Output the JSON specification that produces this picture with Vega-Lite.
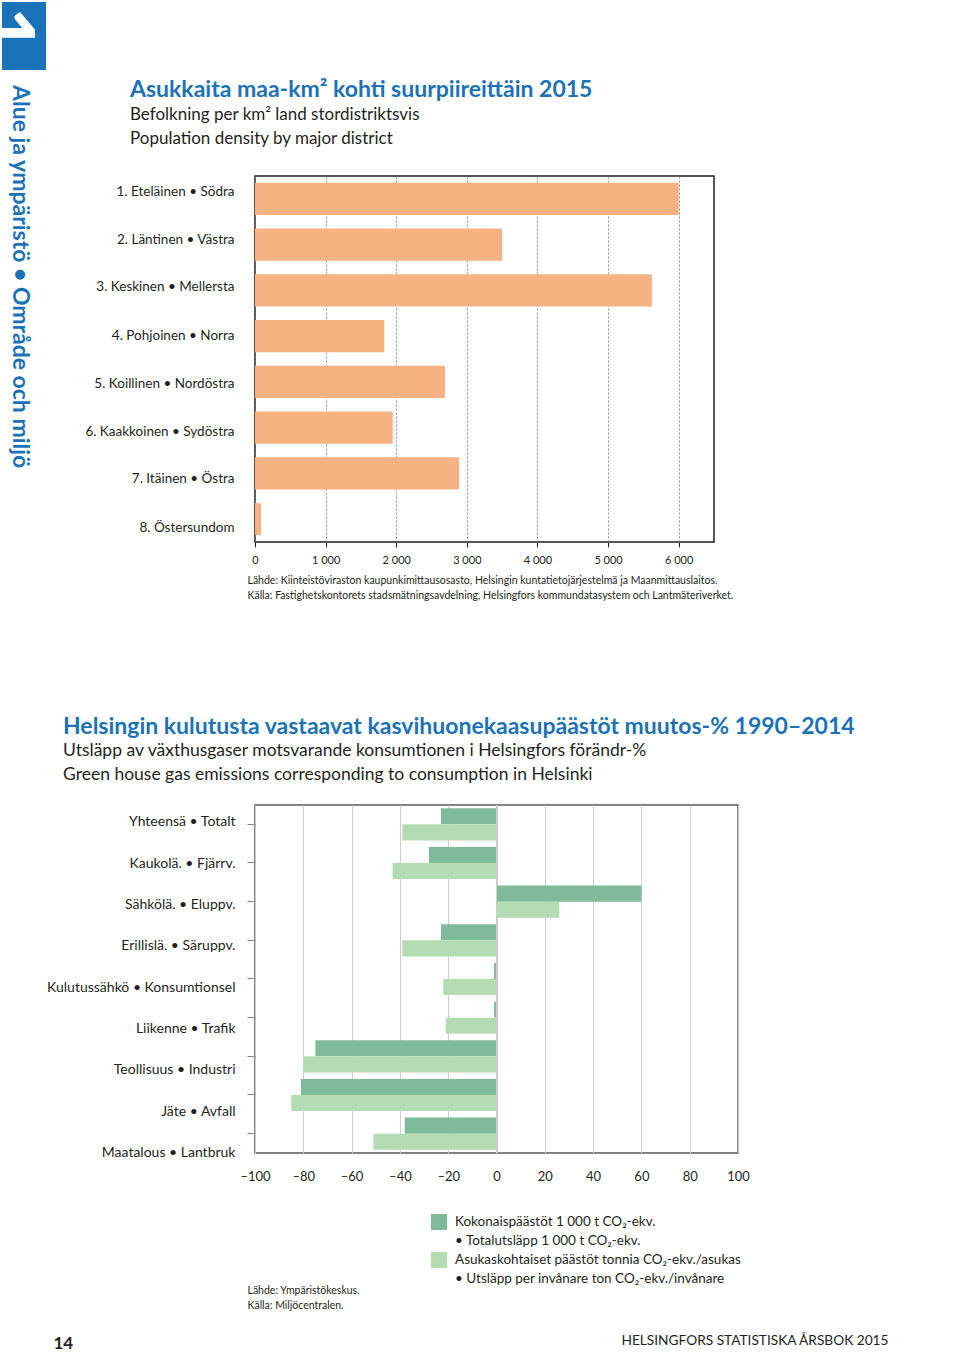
{
  "$schema": "https://vega.github.io/schema/vega-lite/v6.json",
  "background": "white",
  "padding": {"left": 2, "top": 2, "right": 5, "bottom": 5},
  "bounds": "flush",
  "spacing": 209,
  "config": {
    "font": "Lato",
    "view": {"stroke": null},
    "axis": {"labelFont": "Lato", "titleFont": "Lato"},
    "legend": {"labelFont": "Lato", "titleFont": "Lato"},
    "title": {"font": "Lato", "subtitleFont": "Lato"}
  },
  "hconcat": [
    {
      "width": 44,
      "height": 68,
      "view": {"fill": "#1b72b9", "stroke": null},
      "data": {"values": [{"chapter": "1"}]},
      "mark": {"type": "text", "angle": 90, "align": "center", "baseline": "alphabetic", "fontSize": 80, "fontWeight": "bold", "color": "white", "clip": true, "dx": -6, "dy": 47},
      "encoding": {"text": {"field": "chapter", "type": "nominal"}},
      "title": {"text": "Alue ja ympäristö • Område och miljö", "orient": "bottom", "anchor": "start", "frame": "group", "angle": 90, "align": "left", "baseline": "middle", "fontSize": 23, "fontWeight": "bold", "color": "#1b72b9", "offset": 15, "dx": 0, "dy": -18}
    },
    {
      "bounds": "flush",
      "spacing": 164,
      "vconcat": [
        {
          "width": 10,
          "height": 10,
          "data": {"values": []},
          "mark": "point"
        },
        {
          "bounds": "flush",
          "spacing": 263,
          "vconcat": [
            {
              "width": 459,
              "height": 366,
              "view": {"stroke": "#231f20", "strokeWidth": 1.5},
              "title": {
                "text": "Asukkaita maa-km² kohti suurpiireittäin 2015",
                "subtitle": ["Befolkning per km² land stordistriktsvis", "Population density by major district"],
                "anchor": "start", "frame": "group", "dx": -125, "offset": 29,
                "fontSize": 23, "fontWeight": "bold", "color": "#1b72b9",
                "subtitleFontSize": 17, "subtitleColor": "#231f20", "subtitleLineHeight": 24, "subtitlePadding": 5
              },
              "data": {"values": [
                {"d": "1. Eteläinen • Södra", "v": 6000},
                {"d": "2. Läntinen • Västra", "v": 3500},
                {"d": "3. Keskinen • Mellersta", "v": 5620},
                {"d": "4. Pohjoinen • Norra", "v": 1830},
                {"d": "5. Koillinen • Nordöstra", "v": 2690},
                {"d": "6. Kaakkoinen • Sydöstra", "v": 1950},
                {"d": "7. Itäinen • Östra", "v": 2890},
                {"d": "8. Östersundom", "v": 85}
              ]},
              "mark": {"type": "bar", "color": "#f7b283"},
              "encoding": {
                "y": {
                  "field": "d", "type": "nominal", "sort": null,
                  "scale": {"paddingInner": 0.3, "paddingOuter": 0.15},
                  "axis": {
                    "title": null, "ticks": false, "domain": false, "labelPadding": 21, "labelFontSize": 13.5,
                    "labelColor": "#231f20", "labelLimit": 300,
                    "labelOffset": {"condition": [
                      {"test": "datum.value === '1. Eteläinen • Södra'", "value": -7},
                      {"test": "datum.value === '2. Läntinen • Västra'", "value": -5},
                      {"test": "datum.value === '3. Keskinen • Mellersta'", "value": -3},
                      {"test": "datum.value === '5. Koillinen • Nordöstra'", "value": 2},
                      {"test": "datum.value === '6. Kaakkoinen • Sydöstra'", "value": 4},
                      {"test": "datum.value === '7. Itäinen • Östra'", "value": 6},
                      {"test": "datum.value === '8. Östersundom'", "value": 9}
                    ], "value": 0}
                  }
                },
                "x": {
                  "field": "v", "type": "quantitative",
                  "scale": {"domain": [0, 6500], "nice": false},
                  "axis": {
                    "values": [0, 1000, 2000, 3000, 4000, 5000, 6000],
                    "labelExpr": "replace(format(datum.value, ','), ',', ' ')",
                    "labelFlush": false,
                    "grid": true, "gridDash": [2, 2], "gridColor": "#777777", "gridWidth": 0.8,
                    "domain": false, "tickSize": 5, "tickColor": "#231f20",
                    "labelFontSize": 11, "labelPadding": 7, "labelColor": "#231f20",
                    "title": ["Lähde: Kiinteistöviraston kaupunkimittausosasto, Helsingin kuntatietojärjestelmä ja Maanmittauslaitos.", "Källa: Fastighetskontorets stadsmätningsavdelning, Helsingfors kommundatasystem och Lantmäteriverket."],
                    "titleX": -8, "titleY": 33, "titleAlign": "left", "titleAnchor": "start", "titleBaseline": "top",
                    "titleFontSize": 10.5, "titleFontWeight": "normal", "titleColor": "#231f20", "titleLineHeight": 15
                  }
                }
              }
            },
            {
              "width": 483,
              "height": 348,
              "view": {"stroke": "#58595b", "strokeWidth": 1.5},
              "title": {
                "text": "Helsingin kulutusta vastaavat kasvihuonekaasupäästöt muutos-% 1990–2014",
                "subtitle": ["Utsläpp av växthusgaser motsvarande konsumtionen i Helsingfors  förändr-%", "Green house gas emissions corresponding to consumption in Helsinki"],
                "anchor": "start", "frame": "group", "dx": -192, "offset": 21,
                "fontSize": 23, "fontWeight": "bold", "color": "#1b72b9",
                "subtitleFontSize": 17.5, "subtitleColor": "#231f20", "subtitleLineHeight": 24, "subtitlePadding": 3
              },
              "layer": [
                {
                  "data": {"values": [
                    {"c": "Yhteensä • Totalt", "s": "A", "v": -23},
                    {"c": "Yhteensä • Totalt", "s": "B", "v": -39},
                    {"c": "Kaukolä. • Fjärrv.", "s": "A", "v": -28},
                    {"c": "Kaukolä. • Fjärrv.", "s": "B", "v": -43},
                    {"c": "Sähkölä. • Eluppv.", "s": "A", "v": 60},
                    {"c": "Sähkölä. • Eluppv.", "s": "B", "v": 26},
                    {"c": "Erillislä. • Säruppv.", "s": "A", "v": -23},
                    {"c": "Erillislä. • Säruppv.", "s": "B", "v": -39},
                    {"c": "Kulutussähkö • Konsumtionsel", "s": "A", "v": -1},
                    {"c": "Kulutussähkö • Konsumtionsel", "s": "B", "v": -22},
                    {"c": "Liikenne • Trafik", "s": "A", "v": -1},
                    {"c": "Liikenne • Trafik", "s": "B", "v": -21},
                    {"c": "Teollisuus • Industri", "s": "A", "v": -75},
                    {"c": "Teollisuus • Industri", "s": "B", "v": -80},
                    {"c": "Jäte • Avfall", "s": "A", "v": -81},
                    {"c": "Jäte • Avfall", "s": "B", "v": -85},
                    {"c": "Maatalous • Lantbruk", "s": "A", "v": -38},
                    {"c": "Maatalous • Lantbruk", "s": "B", "v": -51}
                  ]},
                  "mark": {"type": "bar"},
                  "encoding": {
                    "y": {
                      "field": "c", "type": "nominal", "sort": null,
                      "scale": {"paddingInner": 0.17, "paddingOuter": 0.085},
                      "axis": {
                        "domain": false, "tickSize": 8, "tickColor": "#888888", "tickWidth": 1,
                        "labelPadding": 12, "labelFontSize": 14, "labelColor": "#231f20", "labelLimit": 300,
                        "labelOffset": {"condition": [
                          {"test": "datum.value === 'Yhteensä • Totalt'", "value": -2},
                          {"test": "datum.value === 'Kaukolä. • Fjärrv.'", "value": 1},
                          {"test": "datum.value === 'Sähkölä. • Eluppv.'", "value": 3},
                          {"test": "datum.value === 'Erillislä. • Säruppv.'", "value": 6},
                          {"test": "datum.value === 'Kulutussähkö • Konsumtionsel'", "value": 9},
                          {"test": "datum.value === 'Liikenne • Trafik'", "value": 11},
                          {"test": "datum.value === 'Teollisuus • Industri'", "value": 14},
                          {"test": "datum.value === 'Jäte • Avfall'", "value": 17},
                          {"test": "datum.value === 'Maatalous • Lantbruk'", "value": 19}
                        ], "value": 0},
                        "title": "14", "titleX": -202, "titleY": 538, "titleAngle": 0, "titleAlign": "left",
                        "titleBaseline": "middle", "titleFontSize": 17, "titleFontWeight": "bold", "titleColor": "#231f20"
                      }
                    },
                    "yOffset": {"field": "s", "type": "nominal", "scale": {"domain": ["A", "B"]}},
                    "x": {
                      "field": "v", "type": "quantitative",
                      "scale": {"domain": [-100, 100], "nice": false},
                      "axis": {
                        "values": [-100, -80, -60, -40, -20, 0, 20, 40, 60, 80, 100],
                        "labelExpr": "datum.value < 0 ? '–' + abs(datum.value) : datum.label",
                        "labelFlush": false,
                        "grid": true, "gridColor": "#cccccc", "gridWidth": 1,
                        "ticks": false, "domain": false, "labelPadding": 17, "labelFontSize": 13, "labelColor": "#231f20",
                        "title": ["Lähde: Ympäristökeskus.", "Källa: Miljöcentralen."],
                        "titleX": -8, "titleY": 132, "titleAlign": "left", "titleAnchor": "start", "titleBaseline": "top",
                        "titleFontSize": 10.5, "titleFontWeight": "normal", "titleColor": "#231f20", "titleLineHeight": 15
                      }
                    },
                    "color": {
                      "field": "s", "type": "nominal",
                      "scale": {"domain": ["A", "A2", "B", "B2"], "range": ["#7fba9b", "#ffffff", "#b3dcb2", "#ffffff"]},
                      "legend": {
                        "orient": "none", "legendX": 429, "legendY": 1212, "title": null, "padding": 0,
                        "symbolType": "square", "symbolSize": 256, "symbolStrokeWidth": 0, "rowPadding": 3,
                        "labelFontSize": 13.5, "labelColor": "#231f20", "labelLimit": 500, "labelOffset": 8,
                        "labelExpr": "datum.value === 'A' ? 'Kokonaispäästöt 1 000 t CO₂-ekv.' : datum.value === 'A2' ? '• Totalutsläpp 1 000 t CO₂-ekv.' : datum.value === 'B' ? 'Asukaskohtaiset päästöt tonnia CO₂-ekv./asukas' : '• Utsläpp per invånare ton CO₂-ekv./invånare'"
                      }
                    }
                  }
                },
                {
                  "data": {"values": [{"v": 0}]},
                  "mark": {"type": "rule", "color": "#cccccc"},
                  "encoding": {
                    "x": {
                      "field": "v", "type": "quantitative",
                      "axis": {
                        "orient": "top", "labels": false, "ticks": false, "domain": false, "grid": false,
                        "title": "HELSINGFORS STATISTISKA ÅRSBOK 2015",
                        "titleX": 633, "titleY": 535, "titleAlign": "right", "titleBaseline": "middle",
                        "titleFontSize": 13.7, "titleFontWeight": "normal", "titleColor": "#231f20"
                      }
                    }
                  }
                }
              ],
              "resolve": {"axis": {"x": "independent"}}
            }
          ]
        }
      ]
    }
  ]
}
